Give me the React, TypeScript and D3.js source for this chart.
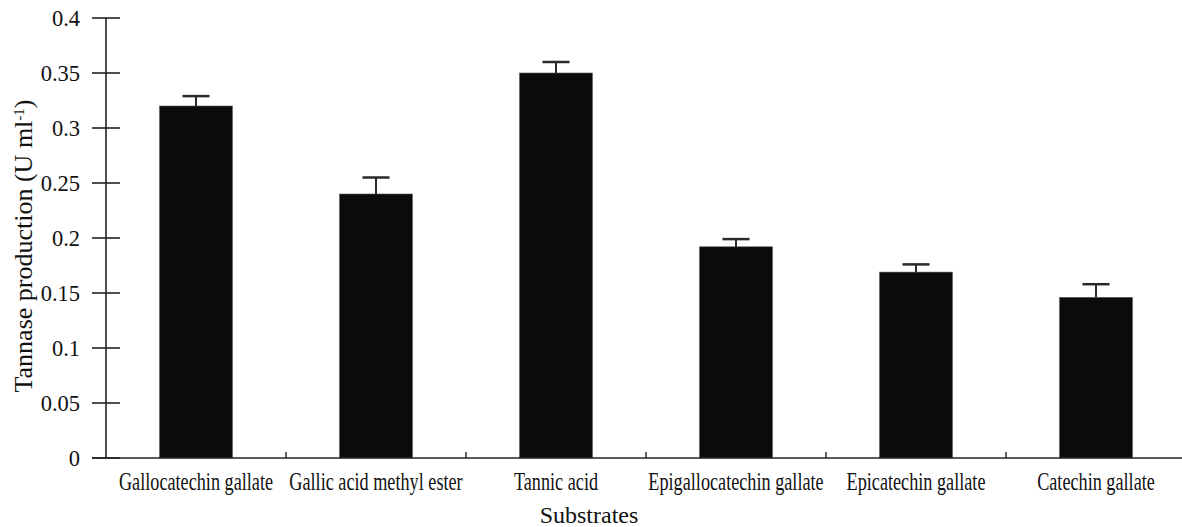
import React from 'react';
import * as d3 from 'd3';

const substrates = [
  'Gallocatechin gallate',
  'Gallic acid methyl ester',
  'Tannic acid',
  'Epigallocatechin gallate',
  'Epicatechin gallate',
  'Catechin gallate',
];
const production = [0.32, 0.24, 0.35, 0.192, 0.169, 0.146];
const errors = [0.009, 0.015, 0.01, 0.007, 0.007, 0.012];
const yTicks = [0, 0.05, 0.1, 0.15, 0.2, 0.25, 0.3, 0.35, 0.4];
const yTickLabels = ['0', '0.05', '0.1', '0.15', '0.2', '0.25', '0.3', '0.35', '0.4'];

const W = 1182;
const H = 527;

const App = () => {
  // scales
  const x = d3
    .scaleBand()
    .domain(substrates)
    .range([106, 1186])
    .paddingInner(0.595)
    .paddingOuter(0.2975);
  const y = d3.scaleLinear().domain([0, 0.4]).range([458, 18]);

  const bw = x.bandwidth();
  const step = x.step();
  const axisColor = '#222';
  const font = '"Liberation Serif", "Times New Roman", serif';

  return (
    <svg
      width={W}
      height={H}
      style={{ position: 'absolute', left: 0, top: 0, background: '#fff' }}
      fontFamily={font}
    >
      {/* bars */}
      {substrates.map((s, i) => (
        <rect
          key={s}
          x={x(s)}
          y={y(production[i])}
          width={bw}
          height={y(0) - y(production[i])}
          fill="#0a0b0d"
          stroke="#555"
          strokeWidth={0.6}
        />
      ))}

      {/* error bars (upper only) */}
      {substrates.map((s, i) => {
        const cx = (x(s) as number) + bw / 2;
        const top = y(production[i] + errors[i]);
        return (
          <g key={'e' + s} stroke="#2a2a2a">
            <line x1={cx} x2={cx} y1={y(production[i])} y2={top} strokeWidth={2} />
            <line x1={cx - 13.5} x2={cx + 13.5} y1={top} y2={top} strokeWidth={2.5} />
          </g>
        );
      })}

      {/* y axis */}
      <line x1={106} x2={106} y1={y(0.4)} y2={y(0)} stroke={axisColor} strokeWidth={1.6} />
      {yTicks.map((t, i) => (
        <g key={'t' + t}>
          <line x1={92} x2={120} y1={y(t)} y2={y(t)} stroke={axisColor} strokeWidth={1.6} />
          <text
            x={80}
            y={y(t)}
            dy="0.35em"
            textAnchor="end"
            fontSize={22.5}
            fill="#111"
          >
            {yTickLabels[i]}
          </text>
        </g>
      ))}

      {/* x axis */}
      <line x1={92} x2={W} y1={y(0)} y2={y(0)} stroke={axisColor} strokeWidth={1.6} />
      {substrates.slice(0, -1).map((s) => {
        const bx = (x(s) as number) + bw / 2 + step / 2;
        return (
          <line key={'b' + s} x1={bx} x2={bx} y1={y(0)} y2={y(0) - 6} stroke={axisColor} strokeWidth={1.4} />
        );
      })}
      {substrates.map((s) => {
        const cx = (x(s) as number) + bw / 2;
        return (
          <text
            key={'l' + s}
            transform={`translate(${cx},490) scale(0.7,1)`}
            textAnchor="middle"
            fontSize={26}
            fill="#111"
          >
            {s}
          </text>
        );
      })}

      {/* axis titles */}
      <text x={589} y={523} textAnchor="middle" fontSize={24} fill="#111">
        Substrates
      </text>
      <text
        transform={`translate(32,246) rotate(-90)`}
        textAnchor="middle"
        fontSize={26}
        fill="#111"
      >
        Tannase production (U ml
        <tspan baselineShift="super" fontSize={15}>-1</tspan>)
      </text>
    </svg>
  );
};

export default App;
